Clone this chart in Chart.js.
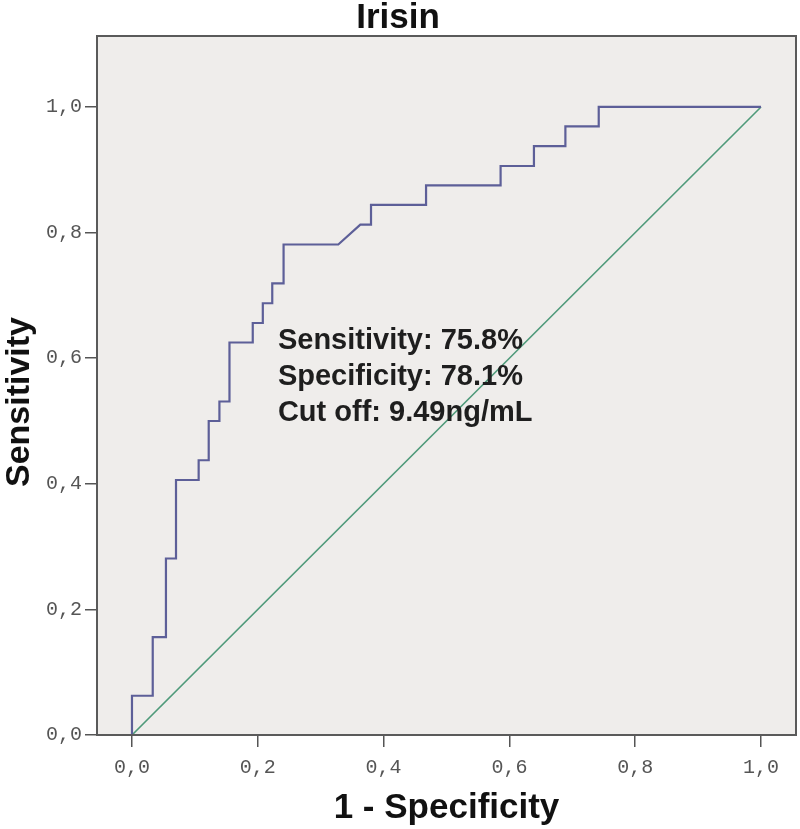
<!DOCTYPE html>
<html>
<head>
<meta charset="utf-8">
<script src="https://cdn.jsdelivr.net/npm/chart.js@4"></script>
<style>
  body { margin: 0; background: #fff; }
  canvas { display: block; }
</style>
</head>
<body>
<canvas id="chart" width="800" height="829"></canvas>
<script>
const ctx = document.getElementById("chart").getContext("2d");

// ROC corner points
const fpr = [0, 0, 0.033, 0.033, 0.054, 0.054, 0.070, 0.070, 0.106, 0.106, 0.122, 0.122,
  0.139, 0.139, 0.155, 0.155, 0.192, 0.192, 0.208, 0.208, 0.223, 0.223, 0.241, 0.241,
  0.328, 0.363, 0.380, 0.380, 0.4675, 0.4675, 0.586, 0.586, 0.639, 0.639, 0.689, 0.689,
  0.742, 0.742, 1.0];
const tpr = [0, 0.0625, 0.0625, 0.156, 0.156, 0.281, 0.281, 0.406, 0.406, 0.4375, 0.4375, 0.5,
  0.5, 0.531, 0.531, 0.625, 0.625, 0.656, 0.656, 0.6875, 0.6875, 0.719, 0.719, 0.781,
  0.781, 0.8125, 0.8125, 0.844, 0.844, 0.875, 0.875, 0.906, 0.906, 0.9375, 0.9375, 0.969,
  0.969, 1.0, 1.0];
const refX = [0, 1];
const refY = [0, 1];
const tickValues = [0, 0.2, 0.4, 0.6, 0.8, 1.0];
const noteLines = ["Sensitivity: 75.8%", "Specificity: 78.1%", "Cut off: 9.49ng/mL"];

const fmt = (v) => v.toFixed(1).replace(".", ",");

// plot background + frame, y title and the annotation text
const decor = {
  id: "decor",
  beforeDatasetsDraw(chart) {
    const a = chart.chartArea;
    const c = chart.ctx;
    c.save();
    c.fillStyle = "#efedeb";
    c.fillRect(a.left, a.top, a.right - a.left, a.bottom - a.top);
    c.restore();
  },
  afterDatasetsDraw(chart) {
    const a = chart.chartArea;
    const c = chart.ctx;
    const xs = chart.scales.x, ys = chart.scales.y;
    c.save();
    c.strokeStyle = "#5a5a5a";
    c.lineWidth = 2;
    c.strokeRect(a.left, a.top, a.right - a.left, a.bottom - a.top);

    c.fillStyle = "#1e1e1e";
    c.font = "bold 29px 'Liberation Sans', Arial, sans-serif";
    c.textBaseline = "alphabetic";
    const x0 = xs.getPixelForValue(0.232);
    const y0 = ys.getPixelForValue(0.615);
    noteLines.forEach((t, i) => c.fillText(t, x0, y0 + i * 36));

    // y axis title
    c.translate(20, 402);
    c.rotate(-Math.PI / 2);
    c.textAlign = "center";
    c.textBaseline = "middle";
    c.font = "bold 34px 'Liberation Sans', Arial, sans-serif";
    c.fillStyle = "#111";
    c.fillText("Sensitivity", 0, 0);
    c.restore();
  },
};

const tickFont = { family: "'Liberation Mono', 'DejaVu Sans Mono', monospace", size: 20 };

new Chart(ctx, {
  type: "scatter",
  data: {
    datasets: [
      {
        data: fpr.map((x, i) => ({ x: x, y: tpr[i] })),
        showLine: true,
        borderColor: "#5d5f98",
        borderWidth: 2.2,
        pointRadius: 0,
        fill: false,
      },
      {
        data: refX.map((x, i) => ({ x: x, y: refY[i] })),
        showLine: true,
        borderColor: "#4f9a7a",
        borderWidth: 1.6,
        pointRadius: 0,
        fill: false,
      },
    ],
  },
  options: {
    responsive: false,
    animation: false,
    layout: { padding: { right: 4 } },
    plugins: {
      legend: { display: false },
      tooltip: { enabled: false },
      title: {
        display: true,
        text: "Irisin",
        color: "#111",
        font: { family: "'Liberation Sans', Arial, sans-serif", size: 35, weight: "bold", lineHeight: 1 },
        padding: { top: 1, bottom: 0 },
      },
    },
    scales: {
      x: {
        type: "linear",
        min: -0.0556,
        max: 1.0556,
        afterBuildTicks: (axis) => { axis.ticks = tickValues.map((v) => ({ value: v })); },
        afterFit: (axis) => { axis.height = 94; },
        grid: { drawOnChartArea: false, drawTicks: true, tickLength: 12, color: "#555", lineWidth: 1.5 },
        border: { display: true, color: "#5a5a5a", width: 2 },
        ticks: { callback: (v) => fmt(v), font: tickFont, color: "#555", padding: 9, maxRotation: 0 },
        title: {
          display: true,
          text: "1 - Specificity",
          color: "#111",
          font: { family: "'Liberation Sans', Arial, sans-serif", size: 35, weight: "bold" },
          padding: { top: 0, bottom: 0 },
        },
      },
      y: {
        type: "linear",
        min: 0,
        max: 1.113,
        afterBuildTicks: (axis) => { axis.ticks = tickValues.map((v) => ({ value: v })); },
        afterFit: (axis) => { axis.width = 97; },
        grid: { drawOnChartArea: false, drawTicks: true, tickLength: 12, color: "#555", lineWidth: 1.5 },
        border: { display: true, color: "#5a5a5a", width: 2 },
        ticks: { callback: (v) => fmt(v), font: tickFont, color: "#555", padding: 3 },
      },
    },
  },
  plugins: [decor],
});
</script>
</body>
</html>
